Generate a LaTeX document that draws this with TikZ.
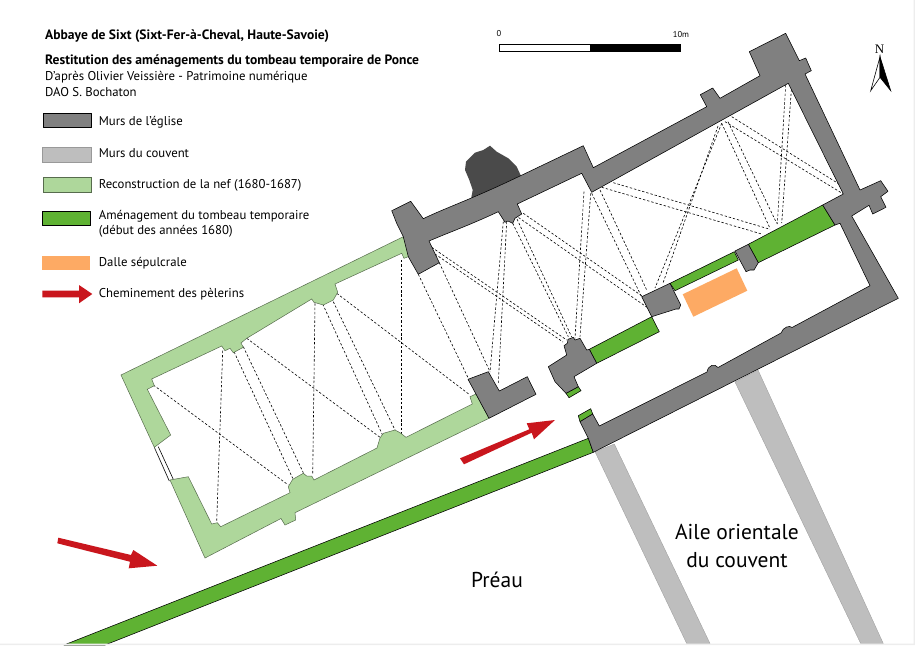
\documentclass[tikz,border=0pt]{standalone}
\usepackage{fontspec}
\setmainfont{PT Sans}
\definecolor{murgris}{HTML}{808080}
\definecolor{couvent}{HTML}{BEBEBE}
\definecolor{nef}{HTML}{AED79B}
\definecolor{tomb}{HTML}{5FB233}
\definecolor{dalle}{HTML}{FDAA64}
\definecolor{rouge}{HTML}{C9161D}
\definecolor{blob}{HTML}{4A4A4A}
\definecolor{bordure}{HTML}{EDEDED}
\tikzset{
 egl/.style={fill=murgris,draw=black,line width=0.55pt,line join=round},
 cvt/.style={fill=couvent,draw=gray!80,line width=0.3pt},
 nf/.style={fill=nef,draw=black!50!nef,line width=0.5pt},
 tb/.style={fill=tomb,draw=black,line width=0.55pt,line join=round},
 dl/.style={fill=dalle},
 arr/.style={fill=rouge},
 vault/.style={draw=black,line width=0.6pt,dash pattern=on 2.4pt off 1.9pt},
 txt/.style={anchor=west,inner sep=0pt,font=\fontsize{12.75}{14}\selectfont},
 btxt/.style={anchor=west,inner sep=0pt,font=\fontsize{13.55}{15}\selectfont\bfseries},
 big/.style={inner sep=0pt,font=\fontsize{21.5}{24}\selectfont},
}
\begin{document}
\begin{tikzpicture}[x=1pt,y=-1pt]
\useasboundingbox (0,0) rectangle (915,645);
\fill[white] (0,0) rectangle (915,645);
% convent walls
\path[cvt] (595,451.7) -- (614.3,444) -- (710,643.5) -- (686.7,643.5) -- cycle;
\path[cvt] (735,382) -- (758,370) -- (883.3,643.5) -- (860.7,643.5) -- cycle;
% vault lines
\draw[vault] (731.7,116.7) -- (841.7,185.7);
\draw[vault] (725,121.7) -- (843.3,194);
\draw[vault] (721.7,123.3) -- (770,228.3);
\draw[vault] (728,121.7) -- (776.7,223.3);
\draw[vault] (721.7,123.3) -- (655,288);
\draw[vault] (718,126) -- (663,283);
\draw[vault] (785.7,85) -- (777.3,224);
\draw[vault] (791.7,85) -- (781.7,223);
\draw[vault] (613.3,182.7) -- (770,229.3);
\draw[vault] (601.7,187.3) -- (761.7,234);
\draw[vault] (503.3,221.7) -- (490,372);
\draw[vault] (506.7,221.7) -- (498.3,383);
\draw[vault] (512.7,223.3) -- (568.3,336.7);
\draw[vault] (517,219) -- (571.7,337);
\draw[vault] (523.3,213.3) -- (642,296);
\draw[vault] (518.5,217.5) -- (648,308);
\draw[vault] (584,191.7) -- (575,338.3);
\draw[vault] (590.7,193.3) -- (580,336.7);
\draw[vault] (591.7,193.3) -- (641.7,297);
\draw[vault] (600,190) -- (646.7,290);
\draw[vault] (431.7,247.3) -- (566.7,340);
\draw[vault] (435,254) -- (563,342);
\draw[vault] (418.3,274.3) -- (468.3,378.3);
\draw[vault] (439.3,262.7) -- (490,371.7);
\draw[vault] (336.7,293.3) -- (470,395);
\draw[vault] (401.7,260) -- (401.7,436.7);
\draw[vault] (246.7,338.3) -- (380,437.3);
\draw[vault] (315,303.3) -- (312.7,475);
\draw[vault] (322.7,304) -- (383.3,436.7);
\draw[vault] (333.3,301.7) -- (395,430);
\draw[vault] (222.7,350.7) -- (216.7,521.7);
\draw[vault] (234,351.7) -- (292.7,478.3);
\draw[vault] (243.3,346.7) -- (303.3,472.7);
\draw[vault] (153.3,385) -- (288.3,485);
% door lines
\draw[black,line width=0.6pt] (154.3,447.3) -- (169.3,481) (158.3,446.7) -- (173.3,479.3);
% nave (light green)
\path[nf] (403.3,236.7) -- (121,375) -- (154.3,447.3) -- (170.7,435) -- (147.3,389.3)
 -- (154.3,385.7) -- (151.7,379) -- (221.7,346) -- (225,350.7) -- (230,348.3) -- (233.3,352.7)
 -- (243.3,347.3) -- (241,343) -- (246.7,338.3) -- (311.7,299) -- (314,302.3) -- (323.3,305)
 -- (333.3,300) -- (337.7,292.3) -- (335,284) -- (401.7,253.3) -- (404,258.3) -- (410,256) -- cycle;
\path[nf] (170,480) -- (188.3,476.7) -- (211.7,524) -- (217.3,522.7) -- (220.7,526.7)
 -- (290,492.7) -- (288.3,486.7) -- (292.7,479.3) -- (303.3,473.3) -- (306.7,476) -- (311.7,476)
 -- (314,480) -- (377,448) -- (380,438) -- (383.3,433.3) -- (395,430) -- (400,432.7) -- (406,437.3)
 -- (472.3,404) -- (470,396.7) -- (476,394) -- (489,418.3)
 -- (295,512.7) -- (295.7,520) -- (285,525) -- (281,518.5) -- (205,558) -- cycle;
% blob
\fill[blob] (471,199.3) -- (472.7,190) -- (469.3,180) -- (465,170) -- (466,161.7) -- (475,152.7)
 -- (483.3,150) -- (490,145.7) -- (496.7,151.7) -- (508.3,158.3) -- (516.7,166.7) -- (521,176) -- cycle;
% green walls
\path[tb] (588.3,438.3) -- (593.3,452.3) -- (105,645) -- (64,645) -- cycle;
\path[tb] (590.7,408.7) -- (578.3,415.7) -- (580,421.7) -- (592.7,414) -- cycle;
\path[tb] (566,393.3) -- (578.3,386.7) -- (581,390.7) -- (569,397.7) -- cycle;
\path[tb] (589.3,349.3) -- (651.7,316.7) -- (659.3,331.7) -- (596.7,363.3) -- cycle;
\path[tb] (670,283.3) -- (734.3,251.7) -- (738.3,260) -- (675,290.7) -- cycle;
\path[tb] (748.3,244.3) -- (822.7,205) -- (835,225) -- (758.3,262.7) -- cycle;
% orange
\path[dl] (682.7,294.3) -- (736.7,268.3) -- (747.3,290.7) -- (693.3,316.7) -- cycle;
% church walls
\path[egl] (391.7,210.7) -- (410.7,201.3) -- (423.3,218.7) .. controls (445,208) and (470,200) .. (520,176)
 -- (583.3,145.7) -- (593.3,167.7) -- (706.7,106.7) -- (700.3,94.7) -- (712.7,88) -- (720,98.3)
 -- (760,75.7) -- (749.3,51.7) -- (785.7,33.3) -- (799.3,60.7) -- (805.7,58) -- (811.3,70.7)
 -- (805,74) -- (860,190) -- (880.7,180.7) -- (888,191.3) -- (880.7,196.7) -- (886,207.3)
 -- (872.7,214) -- (869,205.3) -- (851.7,216) -- (898.3,298.3) -- (593.3,452.3) -- (588.3,438.3)
 -- (580,421.7) -- (592.7,414) -- (599.3,426) -- (707,372) .. controls (708,365) and (715,363) .. (718,367.5)
 -- (781,333) .. controls (783,327) and (790,325) .. (792,327.5) -- (870,285.7) -- (840,223.3) -- (835,225)
 -- (822.7,205) -- (843.3,194) -- (788.3,83.3)
 -- (591.7,192.3) -- (581.7,173.3) -- (517.3,204) -- (521.7,214) -- (515,218.3) -- (512.7,223.3)
 -- (508,221) -- (505,222.3) -- (498.3,211.7) .. controls (470,225) and (450,232) .. (429,241)
 -- (439.3,262.7) -- (418.3,274.3) -- (408.3,256.7) -- (403.3,236.7) -- (396.7,223.3) -- cycle;
\path[egl] (468,379.3) -- (488.3,371.7) -- (499.3,391) -- (527.3,376.7) -- (536,394.3) -- (489,418.3) -- cycle;
\path[egl] (564,345.7) -- (567.3,343.3) -- (568,339.3) -- (573.3,337.3) -- (575,340) -- (580,338.3)
 -- (586.7,350) -- (589.3,349.3) -- (596.7,363.3) -- (574,376.7) -- (578.3,386.7) -- (566,393.3)
 -- (555,381.7) -- (548.3,366.7) -- (566.7,355) -- cycle;
\path[egl] (641.7,296.7) -- (670,283.3) -- (680.7,305) -- (679,309) -- (676,309) -- (651.7,316.7) -- cycle;
\path[egl] (735,251) -- (748.3,244.3) -- (758.3,262.7) -- (754,270) -- (750,270) -- (746,271.7) -- cycle;
% red arrows
\path[arr] (460,458.3) -- (529.3,429.3) -- (526.7,423.3) -- (555,420) -- (534,439.3) -- (531.7,432.7) -- (464,464.3) -- cycle;
\path[arr] (58.3,537.7) -- (131,555) -- (133.3,550) -- (157.3,565.7) -- (128.7,568.3) -- (130,561.7) -- (57.3,543.3) -- cycle;
% legend
\path[egl] (43.3,113.3) rectangle (91.7,127.7);
\path[cvt] (42.3,146.7) rectangle (90.7,161.7);
\path[nf] (43.3,177.3) rectangle (91.7,192);
\path[tb] (42.3,211) rectangle (90.7,225.7);
\path[dl] (42.3,256) rectangle (90,270);
\path[arr] (42.3,290.7) -- (79,290.7) -- (79,285) -- (92.3,294) -- (79,303.3) -- (79,297.3) -- (42.3,297.3) -- cycle;
\node[btxt] (t1) at (45,35.7) {Abbaye de Sixt (Sixt-Fer-à-Cheval, Haute-Savoie)};
\node[btxt] (t2) at (45,60.7) {Restitution des aménagements du tombeau temporaire de Ponce};
\node[txt] (t3) at (45,76.7) {D’après Olivier Veissière - Patrimoine numérique};
\node[txt] (t4) at (45,92) {DAO S. Bochaton};
\node[txt] (l1) at (98.7,122) {Murs de l’église};
\node[txt] (l2) at (98.7,153) {Murs du couvent};
\node[txt] (l3) at (98.7,185) {Reconstruction de la nef (1680-1687)};
\node[txt] (l4) at (98.7,216) {Aménagement du tombeau temporaire};
\node[txt] (l4b) at (98.7,231.5) {(début des années 1680)};
\node[txt] (l5) at (98.7,262.7) {Dalle sépulcrale};
\node[txt] (l6) at (98.7,294) {Cheminement des pèlerins};
% scale
\fill[black] (590,44) rectangle (680,51);
\draw[black,line width=0.6pt] (499.5,44.5) rectangle (680,51);
\node[inner sep=0pt,font=\fontsize{8.5}{10}\selectfont] (s0) at (499,34) {0};
\node[inner sep=0pt,font=\fontsize{8.5}{10}\selectfont] (s1) at (681,35) {10m};
% north arrow
\path[draw=black,fill=white,line width=0.6pt] (880,56.7) -- (870.7,90.7) -- (880,77.3) -- cycle;
\path[draw=black,fill=black,line width=0.6pt] (880,56.7) -- (890.7,90.7) -- (880,77.3) -- cycle;
\node[inner sep=0pt,font=\fontsize{13}{15}\selectfont] (n) at (879.5,49) {\fontspec{Liberation Serif}N};
% big labels
\node[big] (p) at (497,580) {Préau};
\node[big] (a1) at (737,532) {Aile orientale};
\node[big] (a2) at (737,560) {du couvent};
% image edge
\fill[bordure] (913.5,0) rectangle (915,645) (0,643.5) rectangle (915,645);
\end{tikzpicture}
\end{document}
